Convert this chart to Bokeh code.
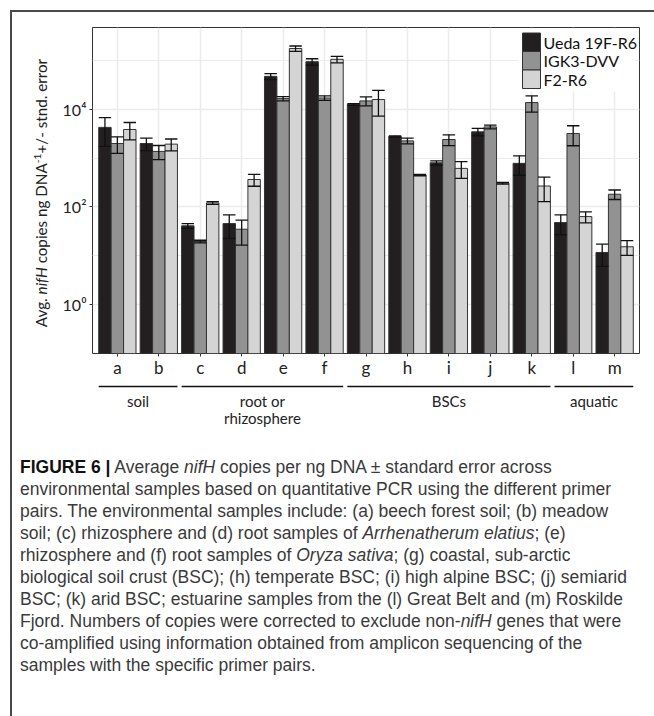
from bokeh.plotting import figure
from bokeh.models import Range1d, FixedTicker, Label, BoxAnnotation, Div, ColumnDataSource
from bokeh.layouts import column, row
from bokeh.embed import file_html
from bokeh.resources import INLINE
from bokeh.core.properties import value

# ---------------- data ----------------
samples = ["a", "b", "c", "d", "e", "f", "g", "h", "i", "j", "k", "l", "m"]
primers = ["Ueda 19F-R6", "IGK3-DVV", "F2-R6"]
ueda_mean = [4250, 1990, 41, 45.6, 47100, 94000, 12500, 2770, 800, 3440, 780, 47.8, 11.7]
ueda_se = [2510, 570, 4.5, 23, 6500, 14000, 500, 80, 80, 600, 335, 21, 5.6]
igk3_mean = [1990, 1370, 19.6, 35, 16500, 17000, 14800, 2250, 2400, 4350, 13700, 3190, 182]
igk3_se = [740, 440, 1.2, 18.5, 1700, 1800, 3100, 300, 600, 400, 5000, 1400, 40]
f2_mean = [3850, 1930, 121, 365, 175000, 105000, 15800, 450, 616, 305, 268, 63.4, 15.3]
f2_se = [1500, 530, 8, 100, 22000, 16000, 8600, 15, 230, 12, 140, 16, 5.1]
group_names = [["soil"], ["root or", "rhizosphere"], ["BSCs"], ["aquatic"]]
group_members = [["a", "b"], ["c", "d", "e", "f"], ["g", "h", "i", "j", "k"], ["l", "m"]]
y_ticks = [1, 100, 10000]
y_minor = [10, 1000, 100000]
y_tick_labels = ["10⁰", "10²", "10⁴"]
y_title_html = "Avg. <i>nifH</i> copies ng DNA<sup style='font-size:68%;vertical-align:0.55em;line-height:0'>-1</sup>+/- stnd. error"
colors = ["#231f20", "#929292", "#d4d4d4"]

caption_html = (
    "<b style='color:#111'>FIGURE 6 |</b> Average <i>nifH</i> copies per ng DNA &plusmn; standard error across<br>"
    "environmental samples based on quantitative PCR using the different primer<br>"
    "pairs. The environmental samples include: (a) beech forest soil; (b) meadow<br>"
    "soil; (c) rhizosphere and (d) root samples of <i>Arrhenatherum elatius</i>; (e)<br>"
    "rhizosphere and (f) root samples of <i>Oryza sativa</i>; (g) coastal, sub-arctic<br>"
    "biological soil crust (BSC); (h) temperate BSC; (i) high alpine BSC; (j) semiarid<br>"
    "BSC; (k) arid BSC; estuarine samples from the (l) Great Belt and (m) Roskilde<br>"
    "Fjord. Numbers of copies were corrected to exclude non-<i>nifH</i> genes that were<br>"
    "co-amplified using information obtained from amplicon sequencing of the<br>"
    "samples with the specific primer pairs."
)

# ---------------- layout constants ----------------
PAGE_W = 654
TOP_H = 12            # strip holding the outer top border
LEFT_W = 56           # strip holding the y-axis title
P_H = 368             # main chart (page y 12..380)
G_H = 70              # group-label strip (page y 380..450)
CAP_H = 716 - TOP_H - P_H - G_H
FL, FR, FT, FB = 92, 639, 27, 354   # frame edges in page pixels
FONT = "Lato"
BORDER = "#4a4a4a"


def sx(X):
    return X - FL


def sy(Y):
    return FB - Y


def vline_html(h):
    return (f"<div style='position:absolute;left:9.8px;top:0;width:1.8px;height:{h}px;"
            f"background:{BORDER};'></div>")


# ---------------- main chart ----------------
p = figure(width=PAGE_W - LEFT_W, height=P_H, x_range=Range1d(0.4, 13.6),
           y_range=Range1d(0.1, 10 ** 5.673), y_axis_type="log",
           output_backend="svg", toolbar_location=None,
           min_border_left=FL - LEFT_W, min_border_right=PAGE_W - FR,
           min_border_top=FT - TOP_H, min_border_bottom=TOP_H + P_H - FB)
p.background_fill_color = "white"
p.border_fill_color = "white"
p.outline_line_color = "#333333"
p.outline_line_width = 1

xt = list(range(1, len(samples) + 1))
p.xaxis.ticker = FixedTicker(ticks=xt)
p.xaxis.major_label_overrides = {t: s for t, s in zip(xt, samples)}
p.yaxis.ticker = FixedTicker(ticks=y_ticks, minor_ticks=y_minor)
p.yaxis.major_label_overrides = {t: s for t, s in zip(y_ticks, y_tick_labels)}
for ax in (p.xaxis, p.yaxis):
    ax.axis_line_color = None
    ax.major_tick_line_color = "#333333"
    ax.major_tick_out = 3
    ax.major_tick_in = 0
    ax.minor_tick_line_color = None
    ax.major_label_text_font = FONT
    ax.major_label_text_color = "#222222"
p.xaxis.major_label_text_font_size = "17px"
p.xaxis.major_label_standoff = 0
p.yaxis.major_label_text_font_size = "16px"
p.yaxis.major_label_standoff = 2

p.xgrid.ticker = FixedTicker(ticks=xt)
p.xgrid.grid_line_color = "#ebebeb"
p.xgrid.grid_line_width = 1.5
p.ygrid.grid_line_color = "#ebebeb"
p.ygrid.grid_line_width = 1.5
p.ygrid.minor_grid_line_color = "#ebebeb"
p.ygrid.minor_grid_line_width = 1.2

series = [(ueda_mean, ueda_se), (igk3_mean, igk3_se), (f2_mean, f2_se)]
bw = 0.3
srcs = []
for k, (m, s) in enumerate(series):
    x = [i + 1 + (k - 1) * bw for i in range(len(samples))]
    src = ColumnDataSource(dict(
        x=x, top=m,
        lo=[mm - ss for mm, ss in zip(m, s)],
        hi=[mm + ss for mm, ss in zip(m, s)],
        cl=[xx - bw / 2 for xx in x], cr=[xx + bw / 2 for xx in x]))
    srcs.append(src)
    p.vbar(x="x", top="top", bottom=0.001, width=bw, source=src,
           fill_color=colors[k], line_color="#333333", line_width=1)
for src in srcs:
    p.segment(x0="x", x1="x", y0="lo", y1="hi", source=src, line_color="#111111", line_width=1.3)
    p.segment(x0="cl", x1="cr", y0="hi", y1="hi", source=src, line_color="#111111", line_width=1.3)
    p.segment(x0="cl", x1="cr", y0="lo", y1="lo", source=src, line_color="#111111", line_width=1.3)

# legend (inside, top right)
p.add_layout(BoxAnnotation(left=sx(518), right=sx(634), top=sy(30), bottom=sy(92),
                           left_units="screen", right_units="screen",
                           top_units="screen", bottom_units="screen",
                           fill_color="white", fill_alpha=1, line_color=None))
box_h = 18.5
for k, name in enumerate(primers):
    y0 = 33.5 + k * box_h
    p.add_layout(BoxAnnotation(left=sx(522), right=sx(540), top=sy(y0), bottom=sy(y0 + box_h),
                               left_units="screen", right_units="screen",
                               top_units="screen", bottom_units="screen",
                               fill_color=colors[k], fill_alpha=1,
                               line_color="#333333", line_alpha=1, line_width=1))
    p.add_layout(Label(x=sx(543), y=sy(y0 + box_h / 2), x_units="screen", y_units="screen",
                       text=name, text_font=FONT, text_font_size="16px", text_color="#111111",
                       text_align="left", text_baseline="middle"))

# ---------------- group labels strip ----------------
p2 = figure(width=PAGE_W - LEFT_W, height=G_H, x_range=p.x_range, y_range=Range1d(G_H, 0),
            output_backend="svg", toolbar_location=None,
            x_axis_location=None, y_axis_location=None,
            min_border_left=FL - LEFT_W, min_border_right=PAGE_W - FR,
            min_border_top=0, min_border_bottom=0)
p2.grid.visible = False
p2.outline_line_color = None
p2.background_fill_color = "white"
p2.border_fill_color = "white"
g_x0, g_x1, t_x, t_y, t_txt = [], [], [], [], []
for names, members in zip(group_names, group_members):
    idx = [samples.index(mm) + 1 for mm in members]
    g_x0.append(min(idx) - 0.45)
    g_x1.append(max(idx) + 0.45)
    for j, nm in enumerate(names):
        t_x.append(sum(idx) / len(idx))
        t_y.append(20 + 17 * j)
        t_txt.append(nm)
p2.segment(x0=g_x0, x1=g_x1, y0=[6] * len(g_x0), y1=[6] * len(g_x0),
           line_color="#111111", line_width=1.5)
p2.text(x=t_x, y=t_y, text=t_txt, text_font=value(FONT), text_font_size="15px",
        text_color="#222222", text_align="center", text_baseline="middle")

# ---------------- HTML strips ----------------
top_div = Div(width=PAGE_W, height=TOP_H, styles={"margin": "0", "padding": "0"}, text=(
    f"<div style='position:relative;width:{PAGE_W}px;height:{TOP_H}px;'>"
    f"<div style='position:absolute;left:9.8px;top:9.8px;width:{PAGE_W - 10}px;height:1.8px;background:{BORDER};'></div>"
    f"<div style='position:absolute;left:9.8px;top:9.8px;width:1.8px;height:{TOP_H - 9.8}px;background:{BORDER};'></div>"
    "</div>"))

ytitle_div = Div(width=LEFT_W, height=P_H, styles={"margin": "0", "padding": "0"}, text=(
    f"<div style='position:relative;width:{LEFT_W}px;height:{P_H}px;'>" + vline_html(P_H) +
    f"<div style=\"position:absolute;left:41px;top:{193 - TOP_H}px;transform:translate(-50%,-50%) rotate(-90deg);"
    f"white-space:nowrap;font-family:'{FONT}';font-size:15.2px;line-height:17px;color:#222222;\">"
    + y_title_html + "</div></div>"))

gleft_div = Div(width=LEFT_W, height=G_H, styles={"margin": "0", "padding": "0"}, text=(
    f"<div style='position:relative;width:{LEFT_W}px;height:{G_H}px;'>" + vline_html(G_H) + "</div>"))

cap_div = Div(width=PAGE_W, height=CAP_H, styles={"margin": "0", "padding": "0"}, text=(
    f"<div style='position:relative;width:{PAGE_W}px;height:{CAP_H}px;'>" + vline_html(CAP_H) +
    "<div style=\"position:absolute;left:20px;top:6px;font-family:'Liberation Sans',Arial,sans-serif;"
    "font-size:17.5px;line-height:22px;color:#3a3a3a;white-space:nowrap;\">"
    + caption_html + "</div></div>"))

layout = column(top_div,
                row(ytitle_div, p, spacing=0),
                row(gleft_div, p2, spacing=0),
                cap_div, spacing=0)
open("out.html", "w").write(file_html(layout, INLINE))
